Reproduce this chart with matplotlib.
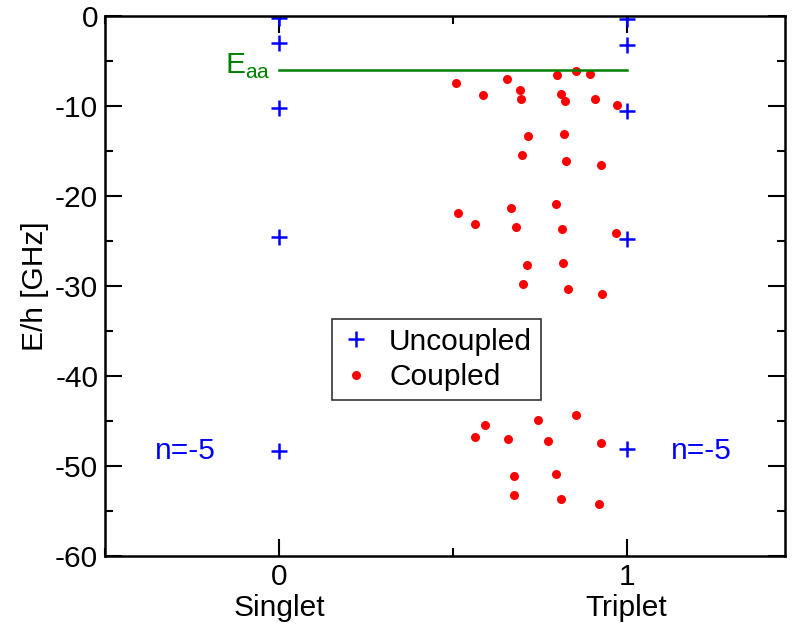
import matplotlib
matplotlib.use("Agg")
import matplotlib.pyplot as plt
from matplotlib.ticker import MultipleLocator

plt.rcParams['font.family'] = ['Liberation Sans', 'DejaVu Sans']
plt.rcParams['axes.unicode_minus'] = False

# uncoupled levels (singlet at x=0, triplet at x=1)
singlet_E = [-0.3, -3.0, -10.3, -24.6, -48.3]
triplet_E = [-0.4, -3.2, -10.6, -24.8, -48.1]

# coupled levels
coupled_x = [0.509, 0.587, 0.656, 0.692, 0.697, 0.801, 0.853, 0.896, 0.811, 0.823,
             0.908, 0.971, 0.715, 0.819, 0.699, 0.826, 0.925, 0.514, 0.564, 0.668,
             0.681, 0.796, 0.815, 0.968, 0.713, 0.816, 0.702, 0.832, 0.929, 0.593,
             0.564, 0.746, 0.854, 0.659, 0.775, 0.926, 0.676, 0.797, 0.675, 0.812,
             0.920]
coupled_E = [-7.48, -8.81, -7.0, -8.26, -9.19, -6.56, -6.08, -6.48, -8.74, -9.48,
             -9.26, -9.86, -13.41, -13.14, -15.52, -16.08, -16.59, -21.86, -23.14, -21.33,
             -23.44, -20.86, -23.74, -24.14, -27.63, -27.41, -29.74, -30.30, -30.86, -45.48,
             -46.78, -44.89, -44.30, -47.0, -47.22, -47.48, -51.11, -50.86, -53.19, -53.70,
             -54.22]

E_aa = -6.07
tick_labels = ['0\nSinglet', '1\nTriplet']

FS = 21.5

fig = plt.figure(figsize=(7.96, 6.31), dpi=100)
ax = fig.add_axes([0.132, 0.119, 0.854, 0.856])

ax.plot([0] * len(singlet_E) + [1] * len(triplet_E), singlet_E + triplet_E,
        linestyle='none', marker='+', color='blue', markersize=11, mew=1.8,
        label='Uncoupled')
ax.plot(coupled_x, coupled_E, linestyle='none', marker='o', color='red',
        markersize=6.5, mec='none', label='Coupled')
ax.plot([0, 1], [E_aa, E_aa], color='green', lw=1.8)

ax.text(-0.09, -5.6, r'E$_{\mathregular{aa}}$', color='green', fontsize=FS,
        ha='center', va='center')
ax.text(-0.268, -48.3, 'n=-5', color='blue', fontsize=FS, ha='center', va='center')
ax.text(1.216, -48.3, 'n=-5', color='blue', fontsize=FS, ha='center', va='center')

ax.set_xlim(-0.5, 1.455)
ax.set_ylim(-60, 0)
ax.set_xticks([0, 1])
ax.set_xticklabels(tick_labels, linespacing=1.15)
ax.xaxis.set_minor_locator(MultipleLocator(0.5))
ax.yaxis.set_major_locator(MultipleLocator(10))
ax.yaxis.set_minor_locator(MultipleLocator(5))
ax.tick_params(which='both', direction='in', top=True, right=True,
               labelsize=FS, width=1.5)
ax.tick_params(which='major', length=12, pad=5)
ax.tick_params(which='minor', length=6)
for s in ax.spines.values():
    s.set_linewidth(1.8)
ax.set_ylabel('E/h [GHz]', fontsize=FS, labelpad=4)

leg = ax.legend(loc='center', bbox_to_anchor=(0.488, 0.364), fontsize=FS,
                frameon=True, fancybox=False, edgecolor='black',
                handletextpad=0.6, borderpad=0.3, labelspacing=0.25,
                handlelength=1.0, markerscale=1.0)
leg.get_frame().set_linewidth(1.2)

fig.savefig('out.png', dpi=100)
